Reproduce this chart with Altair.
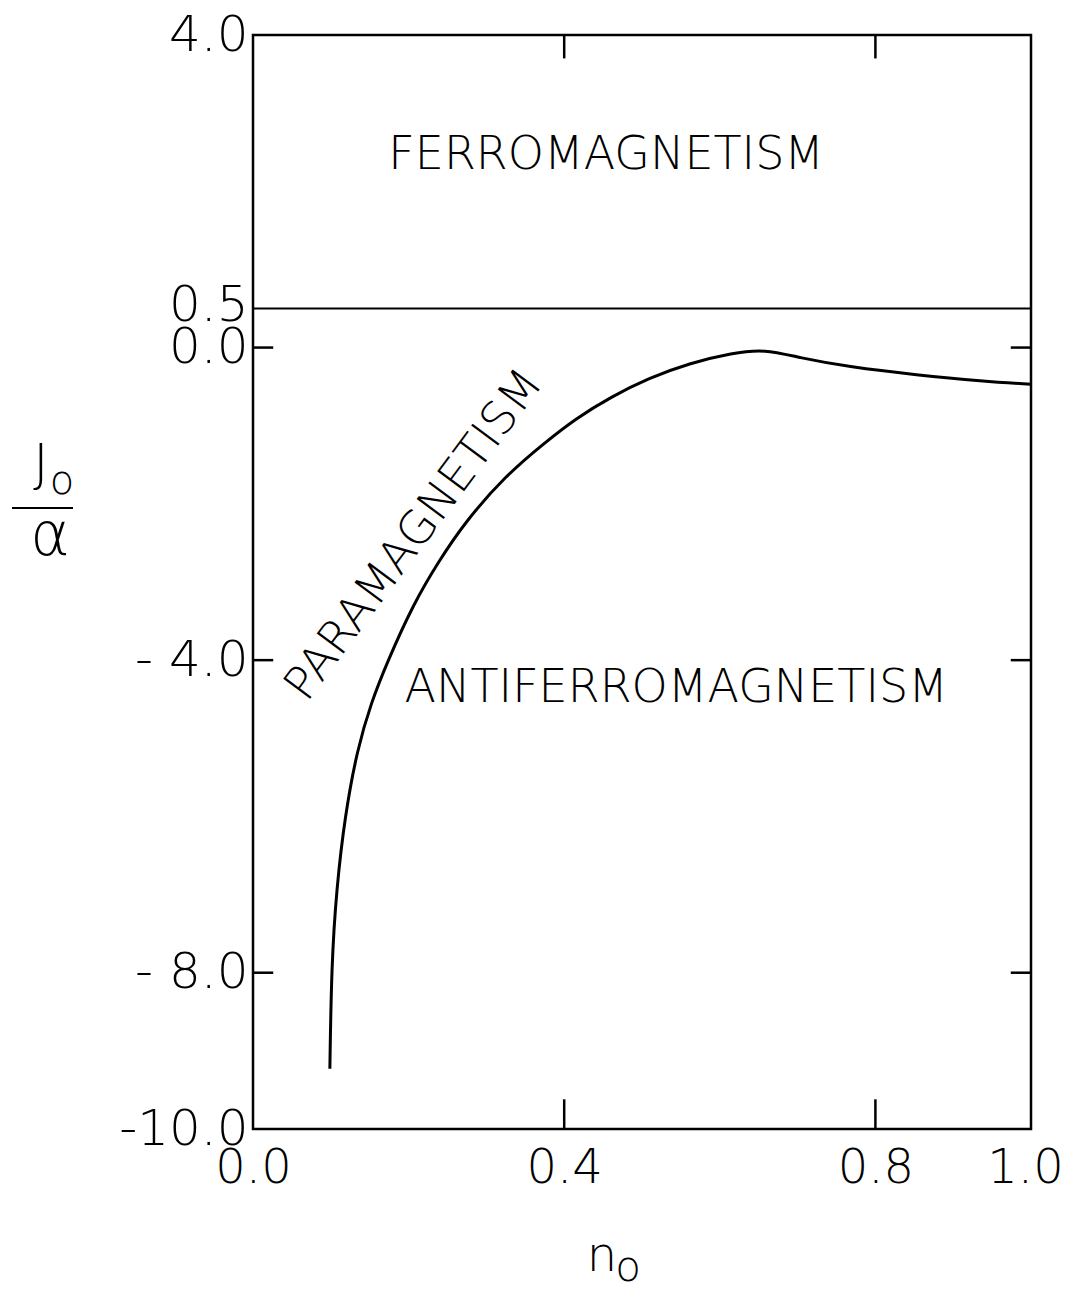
import altair as alt
import pandas as pd

# Phase boundary between the para- and antiferromagnetic regions
n_curve = [0.0988, 0.1009, 0.1073, 0.1182, 0.1340, 0.1520, 0.1727, 0.2062, 0.2384,
           0.2728, 0.3244, 0.3759, 0.4146, 0.4601, 0.5090, 0.5606, 0.6164, 0.6572,
           0.7023, 0.7668, 0.8527, 0.9385, 1.0]
v_curve = [-9.23, -7.91, -6.93, -5.99, -5.14, -4.54, -4.02, -3.28, -2.74,
           -2.23, -1.64, -1.21, -0.91, -0.63, -0.39, -0.20, -0.07, -0.02,
           -0.13, -0.25, -0.35, -0.43, -0.47]

# Ferromagnetic boundary
ferro_level = 0.5

# Axis ticks
x_ticks = [0.0, 0.4, 0.8, 1.0]
y_ticks = [4.0, 0.5, 0.0, -4.0, -8.0, -10.0]
inner_y_ticks = [0.0, -4.0, -8.0]
inner_x_ticks = [0.4, 0.8]

# Region labels
region_names = ["FERROMAGNETISM", "ANTIFERROMAGNETISM", "PARAMAGNETISM"]
region_n = [0.454, 0.544, 0.207]
region_v = [2.47, -4.36, -2.40]

X_MIN, X_MAX = 0.0, 1.0
Y_MIN, Y_MAX = -10.0, 4.0
TICK_LEN_X = 0.026   # inward tick length on the side axes (x units)
TICK_LEN_TOP = 0.30  # inward tick length on the top axis (y units)
TICK_LEN_BOT = 0.38  # inward tick length on the bottom axis (y units)

FONT = "DejaVu Sans"
WEIGHT = 200
INK = "black"

xs = alt.Scale(domain=[X_MIN, X_MAX], nice=False, zero=False)
ys = alt.Scale(domain=[Y_MIN, Y_MAX], nice=False, zero=False)

x_axis = alt.Axis(values=x_ticks, title=None, grid=False, domain=False,
                  ticks=False, labelFont=FONT, labelFontWeight=WEIGHT, labelFontSize=48,
                  labelColor=INK, labelPadding=15, labelFlush=False, labelOverlap=False,
                  labelExpr="format(datum.value, '.1f')",
                  labelOffset={"condition": {"test": "datum.value == 1", "value": -6}, "value": 0})
y_axis = alt.Axis(values=y_ticks, title=None, grid=False, domain=False, ticks=False,
                  labelFont=FONT, labelFontWeight=WEIGHT, labelFontSize=50, labelColor=INK,
                  labelPadding=5, labelOverlap=False,
                  labelExpr="datum.value == -4 ? '- 4.0' : datum.value == -8 ? '- 8.0' : "
                            "datum.value == -10 ? '-10.0' : format(datum.value, '.1f')",
                  labelOffset={"condition": {"test": "datum.value == 0.5", "value": -3}, "value": 0})


def X(field):
    return alt.X(field, type="quantitative", scale=xs, axis=x_axis)


def Y(field):
    return alt.Y(field, type="quantitative", scale=ys, axis=y_axis)


curve_df = pd.DataFrame({"n": n_curve, "v": v_curve})
curve = alt.Chart(curve_df).mark_line(color=INK, strokeWidth=3, interpolate="basis").encode(
    x=X("n"), y=Y("v"))

ferro_df = pd.DataFrame({"n": [X_MIN], "n2": [X_MAX], "v": [ferro_level]})
ferro = alt.Chart(ferro_df).mark_rule(color=INK, strokeWidth=2).encode(
    x=X("n"), x2="n2", y=Y("v"))

# Inward tick marks on all four sides of the frame
tick_rows = []
for t in inner_y_ticks:
    tick_rows.append({"n": X_MIN, "n2": X_MIN + TICK_LEN_X, "v": t, "v2": t})
    tick_rows.append({"n": X_MAX - TICK_LEN_X, "n2": X_MAX, "v": t, "v2": t})
for t in inner_x_ticks:
    tick_rows.append({"n": t, "n2": t, "v": Y_MAX, "v2": Y_MAX - TICK_LEN_TOP})
    tick_rows.append({"n": t, "n2": t, "v": Y_MIN, "v2": Y_MIN + TICK_LEN_BOT})
ticks = alt.Chart(pd.DataFrame(tick_rows)).mark_rule(color=INK, strokeWidth=2.5).encode(
    x=X("n"), x2="n2", y=Y("v"), y2="v2")

labels_df = pd.DataFrame({"name": region_names, "n": region_n, "v": region_v})
flat_labels = alt.Chart(labels_df).transform_filter(
    alt.datum.name != "PARAMAGNETISM").mark_text(
    font=FONT, fontWeight=WEIGHT, fontSize=46, color=INK, align="center", baseline="middle"
).encode(x=X("n"), y=Y("v"), text="name:N")
para_label = alt.Chart(labels_df).transform_filter(
    alt.datum.name == "PARAMAGNETISM").mark_text(
    font=FONT, fontWeight=WEIGHT, fontSize=46, color=INK, align="center", baseline="middle",
    angle=306.6
).encode(x=X("n"), y=Y("v"), text="name:N")

# Axis titles: n_o below, J_o / alpha fraction on the left
title_style = dict(font=FONT, fontWeight=WEIGHT, color=INK, align="center", baseline="alphabetic")
n_main = alt.Chart(pd.DataFrame({"t": ["n"]})).mark_text(fontSize=48, **title_style).encode(
    text="t:N", x=alt.value(349), y=alt.value(1236))
n_sub = alt.Chart(pd.DataFrame({"t": ["o"]})).mark_text(fontSize=42, **title_style).encode(
    text="t:N", x=alt.value(375), y=alt.value(1246))
j_main = alt.Chart(pd.DataFrame({"t": ["J"]})).mark_text(fontSize=52, **title_style).encode(
    text="t:N", x=alt.value(-212), y=alt.value(446))
j_sub = alt.Chart(pd.DataFrame({"t": ["o"]})).mark_text(fontSize=40, **title_style).encode(
    text="t:N", x=alt.value(-191), y=alt.value(459))
bar = alt.Chart(pd.DataFrame({"t": [1]})).mark_rule(color=INK, strokeWidth=2).encode(
    x=alt.value(-241), x2=alt.value(-180), y=alt.value(473))
alpha = alt.Chart(pd.DataFrame({"t": ["α"]})).mark_text(fontSize=60, **title_style).encode(
    text="t:N", x=alt.value(-203), y=alt.value(520))

chart = alt.layer(
    ferro, curve, ticks, flat_labels, para_label, n_main, n_sub, j_main, j_sub, bar, alpha
).properties(
    width=778, height=1094, autosize="none", background="white",
    padding={"left": 253, "top": 35, "right": 34, "bottom": 164},
).configure_view(stroke=INK, strokeWidth=2.5)

chart.save("out.html", embed_options={"renderer": "svg", "actions": False})
